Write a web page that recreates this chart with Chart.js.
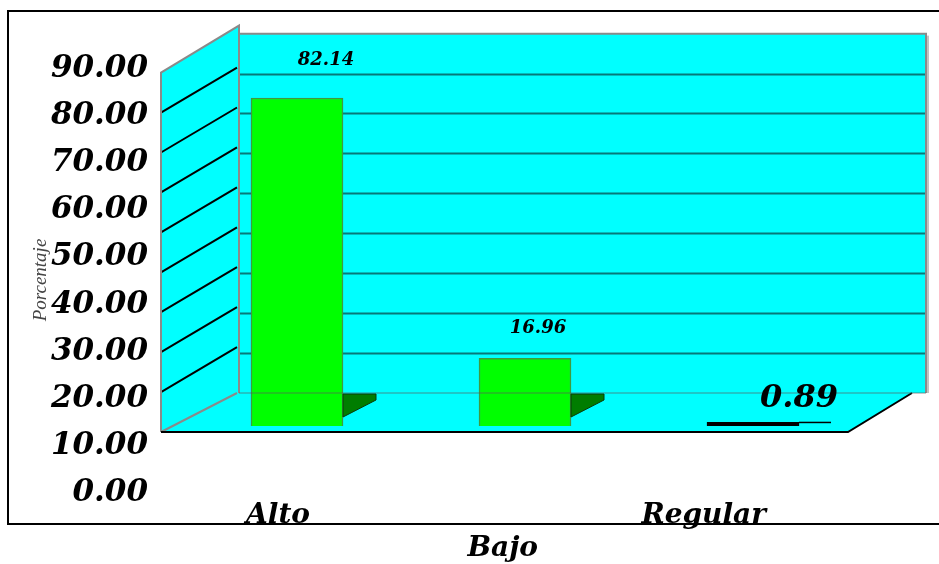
<!DOCTYPE html>
<html>
<head>
<meta charset="utf-8">
<script src="https://cdn.jsdelivr.net/npm/chart.js@4.4.1/dist/chart.umd.min.js"></script>
<style>
  html, body { margin: 0; padding: 0; background: #fff; }
  canvas { display: block; }
</style>
</head>
<body>
<canvas id="chart" width="939" height="564"></canvas>
<script>
// Survey result: share of respondents per level
const categories = ['Alto', 'Bajo', 'Regular'];
const percentages = [82.14, 16.96, 0.89];
const tickValues = [0, 10, 20, 30, 40, 50, 60, 70, 80, 90];
const axisTitle = 'Porcentaje';

const SERIF = '"DejaVu Serif", "Liberation Serif", serif';

// staggered category labels: every second one goes on a second row
const categoryLabels = categories.map((c, i) => (i % 2 ? ['', c] : [c]));

// placement of the value labels above each bar
const valueLabelStyle = [
  { dx: 29, dy: -38, size: 18 },
  { dx: 13, dy: -30, size: 18 },
  { dx: 46, dy: -24, size: 32 }
];

// pseudo-3D box: back wall, left wall and floor around the plot
const boxPlugin = {
  id: 'box3d',
  beforeDraw(chart) {
    const { ctx, chartArea: a, scales: { y } } = chart;
    const y0 = y.getPixelForValue(0);
    const yTop = y.getPixelForValue(tickValues[tickValues.length - 1]);
    const frontL = a.left - 22, backL = a.left + 54;
    const frontR = a.right - 19, backR = a.right + 59;
    const back = -33, front = 6;

    ctx.save();
    ctx.fillStyle = '#fff';
    ctx.fillRect(0, 0, chart.width, chart.height);

    // outer frame
    ctx.strokeStyle = '#000';
    ctx.lineWidth = 2;
    ctx.strokeRect(8, 11, 940, 513);

    // floor
    ctx.fillStyle = '#00FFFF';
    ctx.beginPath();
    ctx.moveTo(frontL, y0 + front);
    ctx.lineTo(frontR, y0 + front);
    ctx.lineTo(backR - 14, y0 + back);
    ctx.lineTo(backR, y0 + back);
    ctx.lineTo(backL, y0 + back);
    ctx.closePath();
    ctx.fill();

    // back wall
    ctx.fillRect(backL, yTop + back, backR - backL, y0 - yTop);
    // soft shadow on the right edge of the back wall
    ctx.fillStyle = 'rgba(120,120,120,0.45)';
    ctx.fillRect(backR, yTop + back + 2, 3, y0 - yTop - 2);

    // left wall
    ctx.fillStyle = '#00FFFF';
    ctx.beginPath();
    ctx.moveTo(frontL, yTop + front);
    ctx.lineTo(backL + 2, yTop + front - 47);
    ctx.lineTo(backL + 2, y0 + back);
    ctx.lineTo(frontL, y0 + front);
    ctx.closePath();
    ctx.fill();

    // grid lines on the back wall
    ctx.strokeStyle = '#087878';
    ctx.lineWidth = 2;
    tickValues.filter(v => v > 0 && v < 90).forEach(v => {
      const py = Math.round(y.getPixelForValue(v) + back) + 0.5;
      ctx.beginPath();
      ctx.moveTo(backL + 2, py);
      ctx.lineTo(backR, py);
      ctx.stroke();
    });

    // grid lines on the left wall
    ctx.strokeStyle = '#000';
    ctx.lineWidth = 2;
    tickValues.filter(v => v > 0 && v < 90).forEach(v => {
      const py = y.getPixelForValue(v) + front;
      ctx.beginPath();
      ctx.moveTo(frontL, py);
      ctx.lineTo(backL, py - 45);
      ctx.stroke();
    });

    // wall outlines
    ctx.strokeStyle = '#8a8a8a';
    ctx.lineWidth = 2;
    ctx.beginPath();
    ctx.moveTo(frontL, y0 + front);
    ctx.lineTo(frontL, yTop + front);
    ctx.lineTo(backL + 2, yTop + front - 47);
    ctx.lineTo(backL + 2, y0 + back);
    ctx.moveTo(backL + 2, yTop + back);
    ctx.lineTo(backR, yTop + back);
    ctx.lineTo(backR, y0 + back);
    ctx.moveTo(frontL, y0 + front);
    ctx.lineTo(backL, y0 + back);
    ctx.stroke();

    // floor edges
    ctx.strokeStyle = '#000';
    ctx.lineWidth = 2;
    ctx.beginPath();
    ctx.moveTo(frontL, y0 + front);
    ctx.lineTo(frontR, y0 + front);
    ctx.lineTo(backR - 14, y0 + back);
    ctx.stroke();
    ctx.restore();
  },
  afterDatasetsDraw(chart) {
    const { ctx, scales: { y }, chartArea: a } = chart;
    const y0 = y.getPixelForValue(0);
    const backY = y0 - 33;
    const meta = chart.getDatasetMeta(0);
    ctx.save();

    // bottom edge of the back wall, seen through the bars
    ctx.strokeStyle = 'rgba(90,90,90,0.45)';
    ctx.lineWidth = 1.5;
    ctx.beginPath();
    ctx.moveTo(a.left + 56, backY);
    ctx.lineTo(a.right + 59, backY);
    ctx.stroke();

    meta.data.forEach((bar, i) => {
      const r = bar.x + bar.width / 2;
      if (bar.y < backY) {
        // visible side face of the bar
        ctx.fillStyle = '#007d00';
        ctx.strokeStyle = '#0a3a0a';
        ctx.lineWidth = 1;
        ctx.beginPath();
        ctx.moveTo(r, backY + 1);
        ctx.lineTo(r + 33, backY + 1);
        ctx.lineTo(r + 33, backY + 7);
        ctx.lineTo(r, backY + 24);
        ctx.closePath();
        ctx.fill();
        ctx.stroke();
      } else {
        ctx.strokeStyle = '#000';
        ctx.lineWidth = 1.5;
        ctx.beginPath();
        ctx.moveTo(r, bar.y);
        ctx.lineTo(r + 32, bar.y);
        ctx.stroke();
      }

      // value label
      const st = valueLabelStyle[i];
      ctx.fillStyle = '#000';
      ctx.font = `italic bold ${st.size}px ${SERIF}`;
      ctx.textAlign = 'center';
      ctx.textBaseline = 'middle';
      ctx.fillText(percentages[i].toFixed(2), bar.x + st.dx, bar.y + st.dy);
    });
    ctx.restore();
  }
};

new Chart(document.getElementById('chart'), {
  type: 'bar',
  data: {
    labels: categoryLabels,
    datasets: [{
      data: percentages,
      backgroundColor: ['#00FF00', '#00FF00', '#000'],
      borderColor: ['#3f9a3f', '#3f9a3f', '#000'],
      borderWidth: 1.5,
      barThickness: 92,
      yAxisID: 'y'
    }]
  },
  options: {
    responsive: false,
    animation: false,
    devicePixelRatio: 1,
    layout: { padding: { left: 8, right: 72, top: 60, bottom: 0 } },
    plugins: {
      legend: { display: false },
      tooltip: { enabled: false }
    },
    scales: {
      x: {
        type: 'category',
        offset: true,
        grid: { display: false, drawTicks: false },
        border: { display: false },
        ticks: {
          color: '#000',
          font: { family: SERIF, size: 28, style: 'italic', weight: 'bold', lineHeight: 1.15 },
          padding: 0,
          align: 'end',
          labelOffset: 13,
          maxRotation: 0,
          autoSkip: false
        },
        afterFit(s) { s.height = 64; }
      },
      y: {
        display: false,
        min: -18.53,
        max: 91.66
      },
      yLab: {
        type: 'linear',
        position: 'left',
        min: -1.49,
        max: 91.91,
        grid: { display: false, drawTicks: false },
        border: { display: false },
        afterBuildTicks(s) { s.ticks = tickValues.map(v => ({ value: v })); },
        ticks: {
          color: '#000',
          padding: 35,
          font: { family: SERIF, size: 31, style: 'italic', weight: 'bold' },
          callback: v => Number(v).toFixed(2)
        },
        title: {
          display: true,
          text: axisTitle,
          color: '#444',
          font: { family: '"Liberation Serif", serif', size: 19, style: 'italic' },
          padding: { top: 22, bottom: 0 }
        },
        afterFit(s) { s.width = 175; }
      }
    }
  },
  plugins: [boxPlugin]
});
</script>
</body>
</html>
